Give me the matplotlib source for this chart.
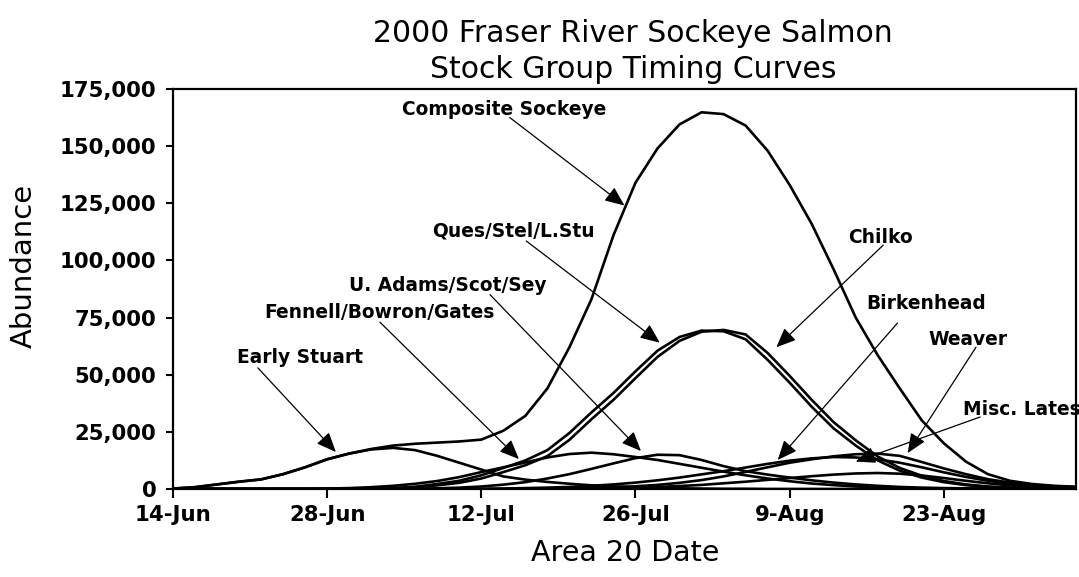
import numpy as np
import matplotlib
matplotlib.use("Agg")
import matplotlib.pyplot as plt
from matplotlib.ticker import FuncFormatter

# values in thousands of fish, one every 2 days from 14-Jun-2000
start = np.datetime64('2000-06-14')
days = np.arange(0, 83, 2)
dates = start + days.astype('timedelta64[D]')

composite = [0.2, 0.8, 2, 3.2, 4.2, 6.5, 9.5, 13, 15.5, 17.5, 19, 19.8, 20.3, 20.8, 21.6,
             25.5, 32, 44, 62, 83, 111, 134, 149, 159.5, 164.8, 164, 159, 148, 133, 116,
             96, 75, 58.5, 44, 30, 20, 12, 6.5, 3.6, 2.2, 1.4, 1.0]
early_stuart = [0.2, 0.8, 2, 3.2, 4.2, 6.5, 9.5, 13, 15.5, 17.3, 18, 17, 14.5, 11.5, 8.5,
                5.5, 4.1, 3.1, 2.3, 1.6, 1.1, 0.8, 0.5, 0.3, 0.2, 0.1, 0.1, 0, 0, 0,
                0, 0, 0, 0, 0, 0, 0, 0, 0, 0, 0, 0]
fennell = [0, 0, 0, 0, 0, 0, 0, 0.2, 0.4, 0.8, 1.4, 2.3, 3.5, 5.2, 7.4,
           9.5, 11.6, 13.8, 15.3, 15.9, 15.2, 14, 12.7, 11, 9.3, 7.6, 6, 4.6, 3.4, 2.4,
           1.7, 1.1, 0.7, 0.4, 0.3, 0.2, 0.1, 0.1, 0, 0, 0, 0]
u_adams = [0, 0, 0, 0, 0, 0, 0, 0, 0, 0, 0, 0, 0.3, 0.6, 1.1,
           1.9, 3, 4.6, 6.5, 8.8, 11.2, 13.5, 15, 14.8, 12.7, 10, 7.8, 6.3, 5, 3.8,
           2.8, 2, 1.4, 0.9, 0.6, 0.4, 0.3, 0.2, 0.1, 0, 0, 0]
ques = [0, 0, 0, 0, 0, 0, 0, 0, 0, 0, 0.4, 1, 2.2, 3.6, 6,
        9.2, 12.5, 17, 24.5, 33.5, 42, 51.5, 60.5, 66.5, 69.3, 69, 65.5, 56.5, 46.5, 36,
        26.5, 19, 12.5, 8, 5, 3, 1.7, 0.9, 0.5, 0.3, 0.2, 0.1]
chilko = [0, 0, 0, 0, 0, 0, 0, 0, 0, 0, 0.3, 0.7, 1.6, 2.7, 4.6,
          7.4, 10.4, 14.4, 21.5, 30.5, 39, 48.5, 57.8, 64.8, 68.8, 69.6, 67.6, 59.5, 49.5, 39,
          29.2, 21.3, 14.2, 9.2, 5.8, 3.5, 2, 1.1, 0.6, 0.35, 0.2, 0.1]
birkenhead = [0, 0, 0, 0, 0, 0, 0, 0, 0, 0, 0, 0, 0, 0, 0,
              0.2, 0.4, 0.6, 0.9, 1.4, 2, 2.8, 3.8, 5, 6.4, 7.8, 9.4, 11, 12.4, 13.4,
              14, 13.8, 13, 11.5, 9.5, 7.3, 5.3, 3.6, 2.4, 1.5, 0.9, 0.6]
weaver = [0, 0, 0, 0, 0, 0, 0, 0, 0, 0, 0, 0, 0, 0, 0,
          0, 0, 0, 0.3, 0.5, 0.8, 1.2, 1.8, 2.7, 3.9, 5.5, 7.5, 9.5, 11.5, 13,
          14.3, 15.2, 15.5, 14.5, 11.8, 9, 6.5, 4.3, 2.8, 1.8, 1.2, 0.8]
misc_lates = [0, 0, 0, 0, 0, 0, 0, 0, 0, 0, 0, 0, 0, 0, 0,
              0, 0, 0, 0, 0.2, 0.4, 0.6, 0.9, 1.3, 1.8, 2.5, 3.2, 4, 4.8, 5.6,
              6.3, 6.8, 7, 6.7, 5.9, 4.8, 3.6, 2.5, 1.6, 1, 0.6, 0.4]

series = [composite, early_stuart, fennell, u_adams, ques, chilko,
          birkenhead, weaver, misc_lates]

tick_days = [0, 14, 28, 42, 56, 70]
tick_labels = ['14-Jun', '28-Jun', '12-Jul', '26-Jul', '9-Aug', '23-Aug']

# label text, text anchor (day, thousands), arrow start, arrow tip
labels = [
    ('Composite Sockeye', 20.8, 166, 30.6, 162.5, 41.0, 124),
    ('Ques/Stel/L.Stu', 23.5, 113, 32.1, 108.5, 44.2, 64),
    ('U. Adams/Scot/Sey', 16.0, 89, 28.8, 85, 42.5, 16.6),
    ('Fennell/Bowron/Gates', 8.3, 77, 18.8, 73, 31.4, 13.1),
    ('Early Stuart', 5.8, 57.7, 7.7, 53, 14.8, 16.2),
    ('Chilko', 61.3, 110, 64.5, 106.7, 54.8, 62),
    ('Birkenhead', 63.0, 81, 65.8, 72.6, 54.9, 12.7),
    ('Weaver', 68.6, 65.2, 72.9, 62, 66.7, 15.7),
    ('Misc. Lates', 71.7, 34.6, 73.3, 31.5, 62.0, 12.0),
]

fig = plt.figure(figsize=(10.79, 5.77), dpi=100)
ax = fig.add_axes([0.1603, 0.1525, 0.8369, 0.6933])

for s in series:
    ax.plot(dates, np.array(s) * 1000, color='black', lw=1.9, solid_joinstyle='round')

def day(d):
    return start + np.timedelta64(int(round(d * 24)), 'h')

for text, tx, ty, ax0, ay0, ax1, ay1 in labels:
    ax.text(day(tx), ty * 1000, text, fontsize=13.4, fontweight='bold',
            ha='left', va='center', clip_on=False)
    ax.annotate('', xy=(day(ax1), ay1 * 1000), xytext=(day(ax0), ay0 * 1000),
                arrowprops=dict(arrowstyle='-|>,head_length=0.4,head_width=0.17',
                                mutation_scale=30, lw=0.9, color='black',
                                shrinkA=0, shrinkB=0))

ax.set_xlim(start, start + np.timedelta64(82, 'D'))
ax.set_ylim(0, 175000)
ax.set_xticks([start + np.timedelta64(d, 'D') for d in tick_days])
ax.set_xticklabels(tick_labels)
ax.set_yticks(np.arange(0, 175001, 25000))
ax.yaxis.set_major_formatter(FuncFormatter(lambda v, p: f'{int(v):,}'))

for lab in ax.get_xticklabels() + ax.get_yticklabels():
    lab.set_fontweight('bold')
    lab.set_fontsize(15.3)
ax.tick_params(axis='y', length=5, width=1.5, pad=7, direction='out')
ax.tick_params(axis='x', length=6.5, width=1.5, pad=5, direction='out')
for sp in ax.spines.values():
    sp.set_linewidth(1.6)
    sp.set_color('black')

fig.text(633 / 1079, 1 - 33 / 577, '2000 Fraser River Sockeye Salmon',
         fontsize=21.5, ha='center', va='center')
fig.text(633 / 1079, 1 - 69 / 577, 'Stock Group Timing Curves',
         fontsize=21.5, ha='center', va='center')
fig.text(24 / 1079, 1 - 266 / 577, 'Abundance', fontsize=21, rotation=90,
         ha='center', va='center')
fig.text(625 / 1079, 1 - 553 / 577, 'Area 20 Date', fontsize=20.5,
         ha='center', va='center')

fig.savefig('out.png', dpi=100)
